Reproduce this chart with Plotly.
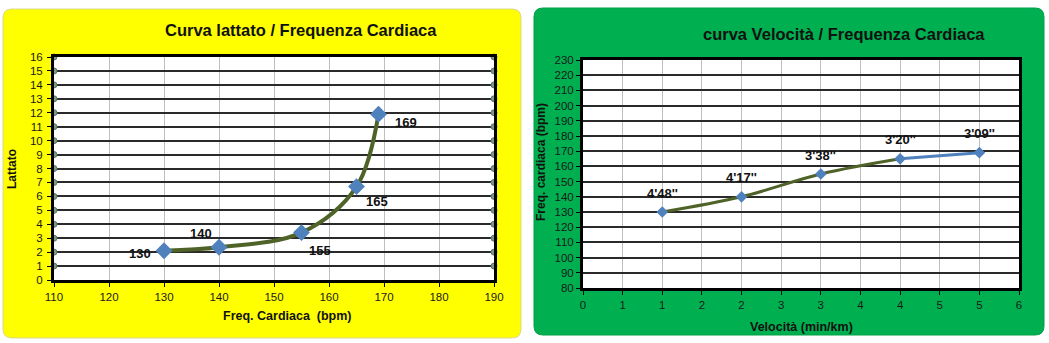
import plotly.graph_objects as go

W, H = 1049, 343

# ---- data ----
hr_left = [130, 140, 155, 165, 169]
lattato = [2.1, 2.35, 3.4, 6.7, 11.9]
left_labels = ["130", "140", "155", "165", "169"]

edge_x = [110, 190]
edge_y = list(range(1, 17))

velocita = [1, 2, 3, 4, 5]
hr_right = [130, 140, 155, 165, 169]
right_labels = ["4'48''", "4'17''", "3'38''", "3'20''", "3'09''"]

x2_tickvals = [0, 0.5, 1, 1.5, 2, 2.5, 3, 3.5, 4, 4.5, 5, 5.5]
x2_ticktext = ["0", "1", "1", "2", "2", "3", "3", "4", "4", "5", "5", "6"]

FONT = "Arial, Liberation Sans, sans-serif"
OLIVE = "#4F6228"
BLUE = "#4F81BD"


def px(x):
    return x / W


def py(y):
    return 1 - y / H


def rounded(x0, y0, x1, y1, r):
    X0, X1 = px(x0), px(x1)
    Y0, Y1 = py(y0), py(y1)
    rx, ry = r / W, r / H
    return (f"M {X0+rx},{Y0} L {X1-rx},{Y0} Q {X1},{Y0} {X1},{Y0-ry} "
            f"L {X1},{Y1+ry} Q {X1},{Y1} {X1-rx},{Y1} L {X0+rx},{Y1} "
            f"Q {X0},{Y1} {X0},{Y1+ry} L {X0},{Y0-ry} Q {X0},{Y0} {X0+rx},{Y0} Z")


fig = go.Figure()

# left chart
fig.add_trace(go.Scatter(
    x=[edge_x[0]] * len(edge_y) + [edge_x[1]] * len(edge_y),
    y=edge_y + edge_y, mode="markers", cliponaxis=False,
    marker=dict(symbol="circle", size=6, color="#7C9A8C",
                line=dict(color="#5E7468", width=1)),
    xaxis="x", yaxis="y", showlegend=False, hoverinfo="skip"))
fig.add_trace(go.Scatter(
    x=hr_left, y=lattato, mode="lines+markers",
    line=dict(color=OLIVE, width=4, shape="spline"),
    marker=dict(symbol="diamond", size=13, color=BLUE, line=dict(color=BLUE, width=0)),
    xaxis="x", yaxis="y", showlegend=False, cliponaxis=False))

# right chart
fig.add_trace(go.Scatter(
    x=velocita[:4], y=hr_right[:4], mode="lines",
    line=dict(color=OLIVE, width=3, shape="spline"),
    xaxis="x2", yaxis="y2", showlegend=False))
fig.add_trace(go.Scatter(
    x=velocita[3:], y=hr_right[3:], mode="lines",
    line=dict(color=BLUE, width=3, shape="spline"),
    xaxis="x2", yaxis="y2", showlegend=False))
fig.add_trace(go.Scatter(
    x=velocita, y=hr_right, mode="markers",
    marker=dict(symbol="diamond", size=9, color=BLUE),
    xaxis="x2", yaxis="y2", showlegend=False, cliponaxis=False))

annotations = []
left_shift = [(-24, -3), (-18, 14), (18, -18), (20, -15), (27, -8)]
for x, y, t, (dx, dy) in zip(hr_left, lattato, left_labels, left_shift):
    annotations.append(dict(x=x, y=y, xref="x", yref="y", text="<b>" + t + "</b>",
                            showarrow=False, xshift=dx, yshift=dy,
                            xanchor="center", yanchor="middle",
                            font=dict(family=FONT, size=13, color="#111111")))
for x, y, t in zip(velocita, hr_right, right_labels):
    annotations.append(dict(x=x, y=y, xref="x2", yref="y2", text="<b>" + t + "</b>",
                            showarrow=False, yshift=19,
                            xanchor="center", yanchor="middle",
                            font=dict(family=FONT, size=13, color="#111111")))


def label(xp, yp, text, size, angle=0):
    return dict(x=px(xp), y=py(yp), xref="paper", yref="paper", showarrow=False,
                xanchor="center", yanchor="middle", text="<b>" + text + "</b>",
                textangle=angle, font=dict(family=FONT, size=size, color="#111111"))


annotations += [
    label(301, 30, "Curva lattato / Frequenza Cardiaca", 16.5),
    label(287, 316, "Freq. Cardiaca  (bpm)", 12.5),
    label(12, 169, "Lattato", 12, -90),
    label(844, 34, "curva Velocità / Frequenza Cardiaca", 16.5),
    label(801, 327, "Velocità (min/km)", 12.5),
    label(541, 162, "Freq. cardiaca (bpm)", 12, -90),
]

shapes = [
    dict(type="path", xref="paper", yref="paper", path=rounded(3, 9, 521, 338, 9),
         fillcolor="#FFFF00", line=dict(color="#D9D98C", width=1), layer="below"),
    dict(type="path", xref="paper", yref="paper", path=rounded(534, 8, 1044, 335, 9),
         fillcolor="#00B050", line=dict(color="#00A048", width=1), layer="below"),
    dict(type="rect", xref="x domain", yref="y domain", x0=0, x1=1, y0=0, y1=1,
         fillcolor="#FFFFFF", line=dict(width=0), layer="below"),
    dict(type="rect", xref="x2 domain", yref="y2 domain", x0=0, x1=1, y0=0, y1=1,
         fillcolor="#FFFFFF", line=dict(width=0), layer="below"),
]

common_axis = dict(showline=True, linecolor="#000000", linewidth=3, mirror=True,
                   ticks="outside", ticklen=4, tickcolor="#000000", zeroline=False,
                   automargin=False,
                   tickfont=dict(family=FONT, size=11.5, color="#1a1a1a"))

fig.update_layout(
    width=W, height=H, autosize=False,
    margin=dict(l=0, r=0, t=0, b=0, pad=0, autoexpand=False),
    paper_bgcolor="#FFFFFF", plot_bgcolor="#FFFFFF",
    showlegend=False,
    shapes=shapes, annotations=annotations,
    xaxis=dict(domain=[px(54), px(494)], range=[110, 190], tick0=110, dtick=10,
               anchor="y", showgrid=True, gridcolor="#BFBFBF", gridwidth=1, **common_axis),
    yaxis=dict(domain=[py(280), py(57)], range=[0, 16], tick0=0, dtick=1,
               anchor="x", showgrid=True, gridcolor="#2a2a2a", gridwidth=1.5,
               ticklabelstandoff=2, **common_axis),
    xaxis2=dict(domain=[px(583), px(1019)], range=[0, 5.5], tickvals=x2_tickvals,
                ticktext=x2_ticktext, anchor="y2", showgrid=True, gridcolor="#BFBFBF",
                gridwidth=1, **common_axis),
    yaxis2=dict(domain=[py(288), py(60)], range=[80, 230], tick0=80, dtick=10,
                anchor="x2", showgrid=True, gridcolor="#2a2a2a", gridwidth=1.5,
                **common_axis),
)

fig.write_html("out.html")
